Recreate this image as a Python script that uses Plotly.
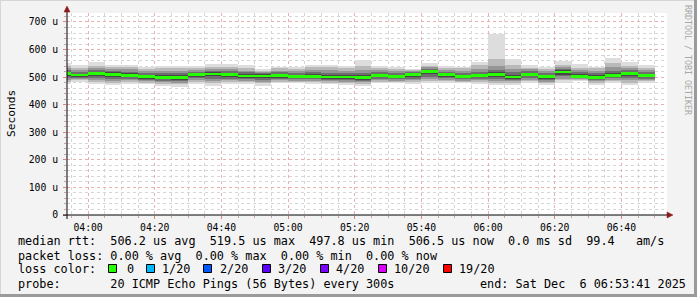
import plotly.graph_objects as go

# ---------------- data ----------------
times = ["03:55", "04:00", "04:05", "04:10", "04:15", "04:20", "04:25", "04:30", "04:35",
         "04:40", "04:45", "04:50", "04:55", "05:00", "05:05", "05:10", "05:15", "05:20",
         "05:25", "05:30", "05:35", "05:40", "05:45", "05:50", "05:55", "06:00", "06:05",
         "06:10", "06:15", "06:20", "06:25", "06:30", "06:35", "06:40", "06:45", "06:50"]

median = [513.5, 507.5, 513.5, 510.5, 506.5, 501.5, 498.5, 498.5, 508.5, 511.5, 510.5, 504.5,
          504.5, 505.5, 502.5, 502.5, 500.5, 500.5, 497.8, 505.5, 502.5, 508.5, 519.5, 508.5,
          502.5, 506.5, 508.5, 500.5, 510.5, 502.5, 519.0, 502.5, 499.5, 506.5, 513.5, 506.5]

p_max = [550, 544, 556, 544, 544, 536, 540, 540, 540, 546, 548, 544, 528, 538, 536, 545, 544, 540,
         562, 540, 536, 528, 552, 540, 538, 556, 656, 565, 544, 536, 560, 548, 538, 569, 555, 543]
p_min = [474, 484, 474, 471, 474, 474, 469, 464, 474, 467, 474, 474, 469, 478, 478, 474, 474, 471,
         469, 478, 478, 474, 478, 478, 478, 474, 470, 473, 479, 470, 479, 485, 473, 479, 470, 479]
p18 = [540, 534, 542, 536, 538, 530, 532, 534, 532, 538, 536, 532, 524, 532, 530, 536, 536, 532,
       540, 532, 530, 526, 542, 532, 532, 544, 566, 544, 534, 530, 544, 534, 532, 550, 542, 534]
p3 = [484, 488, 482, 480, 482, 480, 476, 474, 482, 477, 482, 482, 478, 484, 484, 482, 480, 478,
      476, 484, 484, 482, 486, 486, 484, 482, 478, 480, 486, 478, 488, 490, 480, 486, 480, 486]
p16 = [532, 526, 534, 530, 528, 522, 522, 524, 526, 530, 530, 524, 519, 524, 522, 526, 526, 522,
       526, 526, 522, 521, 536, 526, 524, 530, 542, 530, 528, 522, 536, 526, 522, 536, 534, 526]
p5 = [490, 493, 490, 486, 488, 485, 482, 480, 488, 486, 488, 487, 484, 489, 487, 487, 485, 483,
      482, 489, 487, 488, 492, 490, 487, 488, 486, 485, 490, 484, 494, 492, 485, 490, 488, 490]
p14 = [525, 519, 526, 522, 520, 515, 514, 515, 520, 523, 522, 517, 514, 518, 515, 518, 516, 514,
       516, 519, 515, 517, 530, 519, 516, 520, 527, 518, 522, 515, 530, 517, 514, 524, 526, 518]
p7 = [498, 497, 498, 494, 494, 490, 487, 486, 496, 495, 494, 492, 490, 494, 492, 492, 490, 489,
      487, 495, 492, 495, 502, 497, 492, 495, 494, 490, 498, 490, 503, 496, 489, 496, 496, 495]
p12 = [519, 513, 520, 517, 514, 509, 506, 507, 515, 517, 516, 511, 510, 512, 509, 510, 508, 508,
       506, 512, 509, 514, 525, 514, 509, 513, 517, 508, 516, 509, 525, 510, 506, 514, 520, 513]
p9 = [504, 501, 505, 502, 499, 495, 492, 491, 501, 503, 501, 497, 496, 498, 496, 496, 494, 493,
      491, 499, 496, 501, 510, 502, 496, 499, 500, 494, 503, 495, 509, 499, 493, 500, 504, 499]

y_ticks = [0, 100, 200, 300, 400, 500, 600, 700]
y_ticklabels = ["0", "100 u", "200 u", "300 u", "400 u", "500 u", "600 u", "700 u"]

loss_labels = ["0", "1/20", "2/20", "3/20", "4/20", "10/20", "19/20"]
loss_colors = ["#26ff00", "#00b8ff", "#0059ff", "#5e00ff", "#7e00ff", "#dd00ff", "#ff0000"]

legend_line1 = "median rtt:  506.2 us avg  519.5 us max  497.8 us min  506.5 us now  0.0 ms sd  99.4   am/s"
legend_line2 = "packet loss: 0.00 % avg  0.00 % max  0.00 % min  0.00 % now"
legend_line3 = "loss color:"
legend_line4 = "probe:       20 ICMP Echo Pings (56 Bytes) every 300s"
legend_end = "end: Sat Dec  6 06:53:41 2025"

DAY = "2025-12-06 "
x = [DAY + t for t in times]
STEP_MS = 300000

# ---------------- geometry helpers (pixels -> paper) ----------------
W, H = 697, 297
L, R, T, B = 67, 667, 13, 215


def xp(px):
    return (px - L) / (R - L)


def yp(py):
    return (B - py) / (B - T)


MONO = "DejaVu Sans Mono"

fig = go.Figure()

bands = [
    (p_min, p_max, "#dddddd"),
    (p3, p18, "#b9b9b9"),
    (p5, p16, "#959595"),
    (p7, p14, "#6e6e6e"),
    (p9, p12, "#474747"),
]
for lo, hi, col in bands:
    fig.add_trace(go.Bar(
        x=x, base=lo, y=[h - l for l, h in zip(lo, hi)],
        width=STEP_MS, offset=-STEP_MS,
        marker=dict(color=col, line=dict(width=0)),
        hoverinfo="skip", showlegend=False))

# median band (~2.7 px tall)
MED_HALF = 4.9
fig.add_trace(go.Bar(
    x=x, base=[m - MED_HALF for m in median], y=[2 * MED_HALF] * len(median),
    width=STEP_MS, offset=-STEP_MS,
    marker=dict(color=loss_colors[0], line=dict(width=0)),
    hoverinfo="skip", showlegend=False))

fig.update_layout(
    width=W, height=H,
    margin=dict(l=L, r=W - R, t=T, b=H - B, pad=0),
    paper_bgcolor="#f3f3f3",
    plot_bgcolor="#ffffff",
    barmode="overlay",
    bargap=0,
    showlegend=False,
    font=dict(family=MONO, size=10, color="#000"),
)

fig.update_xaxes(
    type="date",
    range=[DAY + "03:53:41", DAY + "06:53:41"],
    tick0=DAY + "04:00", dtick=20 * 60 * 1000,
    tickformat="%H:%M",
    tickfont=dict(family=MONO, size=9.75, color="#000"),
    showgrid=True, gridcolor="#eab0b0", griddash="dot", gridwidth=1,
    ticks="outside", ticklen=3, tickcolor="#e08080",
    minor=dict(dtick=5 * 60 * 1000, tick0=DAY + "04:00", showgrid=True,
               gridcolor="#d6d6d6", griddash="dot", ticks="outside", ticklen=2,
               tickcolor="#d0a0a0"),
    showline=False, zeroline=False,
    fixedrange=True,
)

fig.update_yaxes(
    range=[0, 732.6],
    tickvals=y_ticks, ticktext=y_ticklabels,
    tickfont=dict(family=MONO, size=9.75, color="#000"),
    showgrid=True, gridcolor="#eab0b0", griddash="dot", gridwidth=1,
    ticks="outside", ticklen=3, tickcolor="#e08080",
    ticklabelstandoff=3,
    minor=dict(dtick=20, showgrid=True, gridcolor="#d6d6d6", griddash="dot",
               ticks="outside", ticklen=2, tickcolor="#d0a0a0"),
    showline=False, zeroline=False,
    fixedrange=True,
)

shapes = []
# axes lines
shapes.append(dict(type="line", xref="paper", yref="paper",
                   x0=xp(63), x1=xp(669), y0=yp(215), y1=yp(215),
                   line=dict(color="#000000", width=1), layer="above"))
shapes.append(dict(type="line", xref="paper", yref="paper",
                   x0=xp(67), x1=xp(67), y0=yp(219), y1=yp(10),
                   line=dict(color="#000000", width=1), layer="above"))
# arrows (dark red)
AR = "#8b1a1a"
shapes.append(dict(type="path", xref="paper", yref="paper",
                   path=f"M {xp(64)} {yp(12)} L {xp(70)} {yp(12)} L {xp(67)} {yp(6)} Z",
                   fillcolor=AR, line=dict(color=AR, width=0.5), layer="above"))
shapes.append(dict(type="path", xref="paper", yref="paper",
                   path=f"M {xp(667)} {yp(212)} L {xp(667)} {yp(218)} L {xp(673)} {yp(215)} Z",
                   fillcolor=AR, line=dict(color=AR, width=0.5), layer="above"))

# frame (3D style border)
shapes.append(dict(type="line", xref="paper", yref="paper",
                   x0=xp(0), x1=xp(W), y0=yp(0.5), y1=yp(0.5),
                   line=dict(color="#d6d6d6", width=1)))
shapes.append(dict(type="line", xref="paper", yref="paper",
                   x0=xp(0.5), x1=xp(0.5), y0=yp(0), y1=yp(H),
                   line=dict(color="#d6d6d6", width=1)))
shapes.append(dict(type="line", xref="paper", yref="paper",
                   x0=xp(0), x1=xp(W), y0=yp(H - 1.5), y1=yp(H - 1.5),
                   line=dict(color="#9a9a9a", width=3)))
shapes.append(dict(type="line", xref="paper", yref="paper",
                   x0=xp(W - 1.5), x1=xp(W - 1.5), y0=yp(0), y1=yp(H),
                   line=dict(color="#9a9a9a", width=3)))

# loss colour squares
sq_left = [108, 146, 203, 262, 320, 378, 443]
txt_left = [125, 160, 218, 276, 334, 392, 457]
for sx, col in zip(sq_left, loss_colors):
    shapes.append(dict(type="rect", xref="paper", yref="paper",
                       x0=xp(sx + 0.5), x1=xp(sx + 8.5), y0=yp(264.5), y1=yp(272.5),
                       fillcolor=col, line=dict(color="#000000", width=1)))

annotations = []


def add_text(txt, px, py, size=11.8, anchor="left", color="#000", angle=0):
    annotations.append(dict(
        text=txt.replace(" ", "\u00a0"), xref="paper", yref="paper",
        x=xp(px), y=yp(py), xanchor=anchor, yanchor="middle",
        showarrow=False, textangle=angle,
        font=dict(family=MONO, size=size, color=color)))


add_text(legend_line1, 16, 241.5)
add_text(legend_line2, 16, 255.5)
add_text(legend_line3, 16, 269)
for tx, lab in zip(txt_left, loss_labels):
    add_text(lab, tx, 269)
add_text(legend_line4, 16, 283.5)
add_text(legend_end, 478, 283.5)

# y-axis title
add_text("Seconds", 11, 114, size=11.2, anchor="center", angle=-90)
# watermark
add_text("RRDTOOL / TOBI OETIKER", 688, 60, size=8.3, anchor="center",
         color="#a8a8a8", angle=90)

fig.update_layout(shapes=shapes, annotations=annotations)

fig.write_html("out.html")
